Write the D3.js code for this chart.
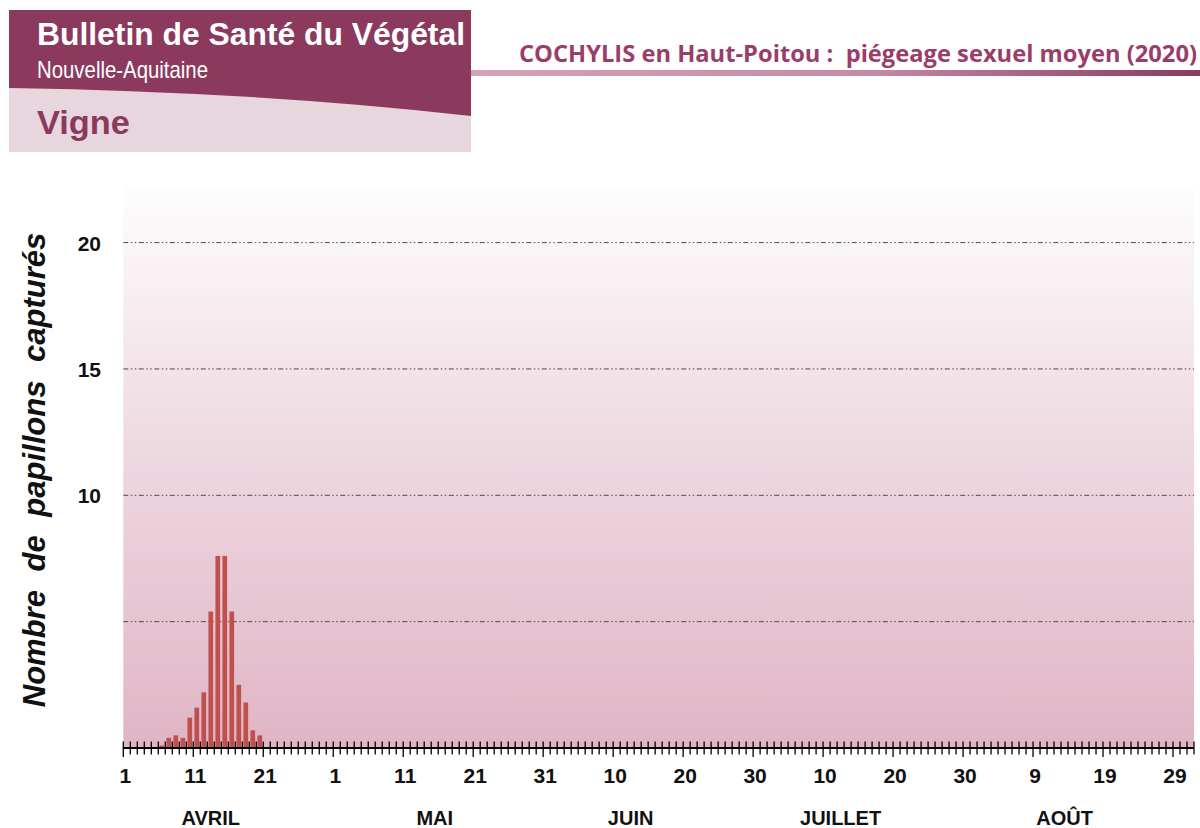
<!DOCTYPE html>
<html>
<head>
<meta charset="utf-8">
<script src="https://cdn.jsdelivr.net/npm/d3@7"></script>
<style>
  body{margin:0;background:#fff;}
  svg{display:block;}
</style>
</head>
<body>
<svg id="chart"></svg>
<script>
// captures moyennes (papillons / piège), avril 2020
var trapDates=["2020-04-06","2020-04-07","2020-04-08","2020-04-09","2020-04-10","2020-04-11","2020-04-12","2020-04-13","2020-04-14","2020-04-15","2020-04-16","2020-04-17","2020-04-18","2020-04-19","2020-04-20"]
var captures=[0.1,0.4,0.5,0.4,1.2,1.6,2.2,5.4,7.6,7.6,5.4,2.5,1.8,0.7,0.5]

var yTicks=[20,15,10]
var gridValues=[20,15,10,5]
var tickLabels=["1","11","21","1","11","21","31","10","20","30","10","20","30","9","19","29"]
var months=["AVRIL","MAI","JUIN","JUILLET","AOÛT"]
var monthLabelDates=["2020-04-13","2020-05-15","2020-06-12","2020-07-12","2020-08-13"]

var fmt=d3.timeFormat("%Y-%m-%d")

//size of screen
var screen={width:1200,height:828}
var plot={left:123.3,right:1194,top:187,bottom:748}

var svg=d3.select("#chart")
  .attr("width",screen.width)
  .attr("height",screen.height)
  .style("font-family","Arial, 'Liberation Sans', sans-serif")

var defs=svg.append("defs")

// ---- header ----
var head=svg.append("g")
head.append("rect").attr("x",9).attr("y",10).attr("width",462).attr("height",142).attr("fill","#e8d6de")
head.append("path")
  .attr("d","M9,10 L471,10 L471,116 Q260,92 9,88 Z")
  .attr("fill","#8b3a5e")
head.append("text").attr("x",37).attr("y",45)
  .attr("fill","#fff").attr("font-weight","bold").attr("font-size",32)
  .attr("textLength",428).attr("lengthAdjust","spacingAndGlyphs")
  .text("Bulletin de Santé du Végétal")
head.append("text").attr("x",37).attr("y",78)
  .attr("fill","#fff").attr("font-size",24)
  .attr("textLength",171).attr("lengthAdjust","spacingAndGlyphs")
  .text("Nouvelle-Aquitaine")
head.append("text").attr("x",37).attr("y",134)
  .attr("fill","#8b3a5e").attr("font-weight","bold").attr("font-size",33)
  .attr("textLength",93).attr("lengthAdjust","spacingAndGlyphs")
  .text("Vigne")

var lg=defs.append("linearGradient").attr("id","titleLine")
lg.append("stop").attr("offset","0%").attr("stop-color","#d4a3b9")
lg.append("stop").attr("offset","55%").attr("stop-color","#c58aa5")
lg.append("stop").attr("offset","100%").attr("stop-color","#8b3a5e")
svg.append("rect").attr("x",471).attr("y",70).attr("width",729).attr("height",6).attr("fill","url(#titleLine)")

svg.append("text").attr("x",519).attr("y",62)
  .attr("fill","#9a3d6a").attr("font-weight","bold").attr("font-size",23)
  .style("font-family","'Open Sans', sans-serif")
  .attr("textLength",678).attr("lengthAdjust","spacingAndGlyphs")
  .style("white-space","pre")
  .text("COCHYLIS en Haut-Poitou :  piégeage sexuel moyen (2020)")

// ---- scales ----
var days=d3.timeDay.range(new Date(2020,3,1),new Date(2020,8,1))
var xBand=d3.scaleBand()
  .domain(days.map(fmt))
  .range([plot.left,plot.right])
  .paddingInner(0.33).paddingOuter(0.165)
var xDay=d3.scaleLinear().domain([0,days.length]).range([plot.left,plot.right])
var yScale=d3.scaleLinear().domain([0,22.2]).range([plot.bottom,plot.top])

// ---- plot background ----
var bg=defs.append("linearGradient").attr("id","plotBg").attr("x1",0).attr("y1",0).attr("x2",0).attr("y2",1)
bg.append("stop").attr("offset","0%").attr("stop-color","#fefdfd")
bg.append("stop").attr("offset","50%").attr("stop-color","#edd6df")
bg.append("stop").attr("offset","100%").attr("stop-color","#e0b5c5")
svg.append("rect")
  .attr("x",plot.left).attr("y",plot.top)
  .attr("width",plot.right-plot.left).attr("height",plot.bottom-plot.top)
  .attr("fill","url(#plotBg)")

// gridlines
svg.append("g").selectAll("line")
  .data(gridValues).enter().append("line")
  .attr("x1",plot.left).attr("x2",plot.right)
  .attr("y1",function(d){return yScale(d)}).attr("y2",function(d){return yScale(d)})
  .attr("stroke","#4a4a4a").attr("stroke-width",1)
  .attr("stroke-dasharray","5,2.5,1.5,2.5,1.5,2.5")

// bars
var points=trapDates.map(function(d,i){return {date:d,value:captures[i]}})
svg.append("g").selectAll("rect")
  .data(points).enter().append("rect")
  .attr("x",function(d){return xBand(d.date)})
  .attr("width",xBand.bandwidth())
  .attr("y",function(d){return yScale(d.value)})
  .attr("height",function(d){return plot.bottom-yScale(d.value)})
  .attr("fill","#c0504d")

// x axis
var xAxis=svg.append("g").attr("transform","translate(0,"+plot.bottom+")")
xAxis.append("line").attr("x1",plot.left).attr("x2",plot.right).attr("stroke","#000").attr("stroke-width",2)
xAxis.selectAll("line.tick")
  .data(d3.range(days.length+1)).enter().append("line")
  .classed("tick",true)
  .attr("x1",function(d){return xDay(d)}).attr("x2",function(d){return xDay(d)})
  .attr("y1",-6.5).attr("y2",function(d){return d%10==0?9:6.5})
  .attr("stroke","#000").attr("stroke-width",1.3)
xAxis.selectAll("text")
  .data(tickLabels).enter().append("text")
  .attr("x",function(d,i){return xDay(i*10)+2})
  .attr("y",35)
  .attr("text-anchor","middle")
  .attr("font-weight","bold").attr("font-size",21)
  .attr("fill","#111")
  .text(function(d){return d})

svg.append("g").selectAll("text")
  .data(months).enter().append("text")
  .attr("x",function(d,i){return xBand(monthLabelDates[i])+xBand.bandwidth()/2})
  .attr("y",825)
  .attr("text-anchor","middle")
  .attr("font-weight","bold").attr("font-size",20)
  .attr("fill","#111")
  .text(function(d){return d})

// y labels
svg.append("g").selectAll("text")
  .data(yTicks).enter().append("text")
  .attr("x",101).attr("y",function(d){return yScale(d)+8})
  .attr("text-anchor","end")
  .attr("font-weight","bold").attr("font-size",21)
  .attr("fill","#111")
  .text(function(d){return d})

svg.append("text")
  .attr("transform","translate(45,470) rotate(-90)")
  .attr("text-anchor","middle")
  .attr("font-weight","bold").attr("font-style","italic").attr("font-size",31)
  .attr("fill","#111")
  .attr("word-spacing",10)
  .text("Nombre de papillons capturés")
</script>
</body>
</html>
